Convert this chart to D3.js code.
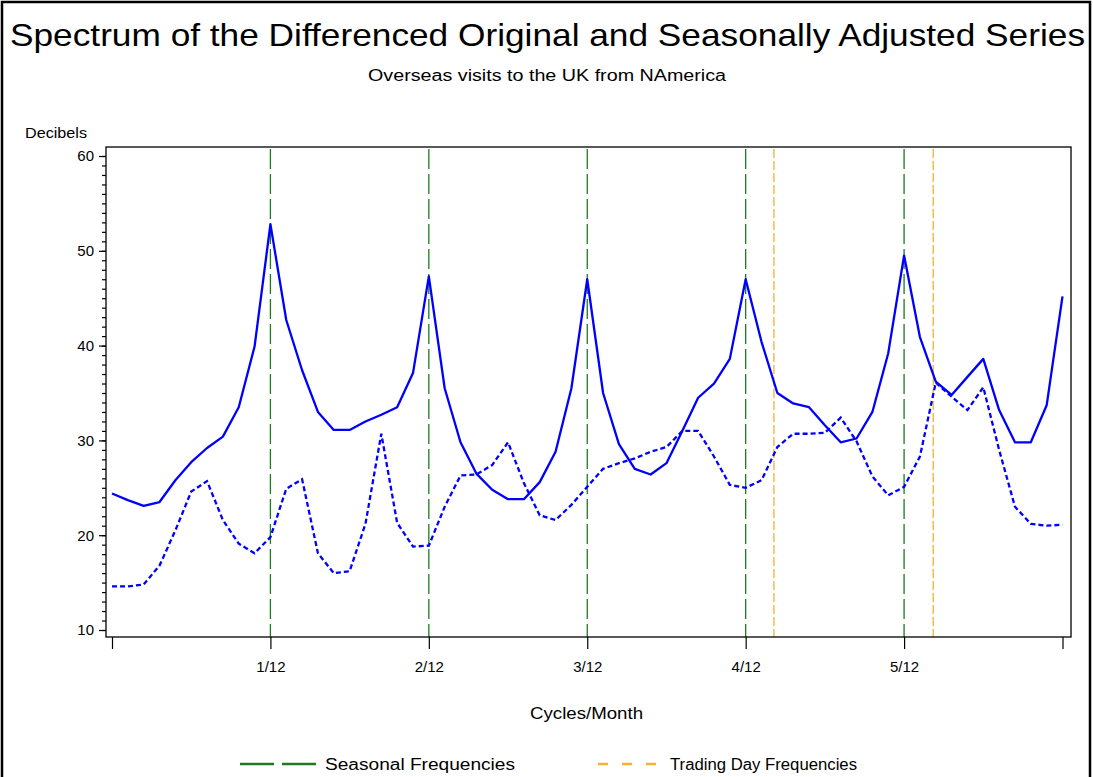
<!DOCTYPE html>
<html>
<head>
<meta charset="utf-8">
<script src="https://cdn.jsdelivr.net/npm/d3@7"></script>
<style>
  html, body { margin: 0; padding: 0; background: #fff; }
  svg { display: block; font-family: "Liberation Sans", Arial, sans-serif; }
</style>
</head>
<body>
<svg id="chart" width="1093" height="777"></svg>
<script>
// Spectrum ordinates at frequencies k/120, k = 0..60 (cycles per month)
const frequencies = d3.range(61).map(k => k / 120);

// Differenced original series (decibels)
const originalDb = [
  24.4, 23.7, 23.1, 23.5, 25.8, 27.7, 29.2, 30.4, 33.5, 39.9,
  52.8, 42.7, 37.4, 33.0, 31.1, 31.1, 32.0, 32.7, 33.5, 37.1,
  47.3, 35.5, 29.8, 26.5, 24.8, 23.8, 23.8, 25.6, 28.8, 35.5,
  47.0, 35.0, 29.6, 27.0, 26.4, 27.6, 31.0, 34.5, 36.0, 38.6,
  47.0, 40.4, 35.0, 33.9, 33.5, 31.6, 29.8, 30.2, 33.0, 39.2,
  49.5, 40.9, 36.2, 34.8, 36.7, 38.6, 33.2, 29.8, 29.8, 33.7,
  45.2
];

// Seasonally adjusted series (decibels)
const adjustedDb = [
  14.6, 14.6, 14.8, 16.8, 20.5, 24.6, 25.7, 21.6, 19.1, 18.1,
  19.8, 24.9, 25.9, 18.1, 16.0, 16.2, 21.2, 30.7, 21.3, 18.8,
  18.9, 23.0, 26.3, 26.4, 27.4, 29.8, 25.5, 22.1, 21.6, 23.2,
  25.1, 27.0, 27.6, 28.1, 28.8, 29.3, 31.0, 31.0, 28.3, 25.3,
  25.0, 25.8, 29.3, 30.7, 30.7, 30.8, 32.4, 29.9, 26.2, 24.2,
  25.1, 28.3, 36.1, 34.6, 33.2, 35.6, 29.0, 23.0, 21.2, 21.0,
  21.1
];

const seasonalFreqs = [1/12, 2/12, 3/12, 4/12, 5/12];
const tradingDayFreqs = [0.3482, 0.4320];

const xTickValues = [0, 1/12, 2/12, 3/12, 4/12, 5/12, 6/12];
const xTickLabels = ["", "1/12", "2/12", "3/12", "4/12", "5/12", ""];
const yTickValues = [10, 20, 30, 40, 50, 60];

const titleText = "Spectrum of the Differenced Original and Seasonally Adjusted Series";
const subtitleText = "Overseas visits to the UK from NAmerica";
const yLabelText = "Decibels";
const xLabelText = "Cycles/Month";
const legendLabels = ["Seasonal Frequencies", "Trading Day Frequencies"];

const svg = d3.select("#chart");

// Outer border
svg.append("rect")
  .attr("x", 2).attr("y", 2).attr("width", 1088).attr("height", 800)
  .attr("fill", "none").attr("stroke", "#000").attr("stroke-width", 2.5);

const x = d3.scaleLinear().domain([0, 0.5]).range([112, 1062.5]);
const y = d3.scaleLinear().domain([10, 60]).range([630, 156]);

const frame = { left: 106, right: 1071, top: 147, bottom: 637 };

// Helper for wide, evenly spread text runs
function wideText(sel, len) {
  return sel.attr("textLength", len).attr("lengthAdjust", "spacingAndGlyphs");
}

// Titles
wideText(svg.append("text")
  .attr("x", 10).attr("y", 46)
  .attr("font-size", 32)
  .attr("fill", "#000")
  .text(titleText), 1075);

wideText(svg.append("text")
  .attr("x", 368).attr("y", 81)
  .attr("font-size", 16)
  .text(subtitleText), 358);

wideText(svg.append("text")
  .attr("x", 25).attr("y", 138)
  .attr("font-size", 15)
  .text(yLabelText), 62);

// Frequency reference lines
svg.append("g").selectAll("line")
  .data(seasonalFreqs).join("line")
  .attr("x1", d => x(d)).attr("x2", d => x(d))
  .attr("y1", frame.top + 2).attr("y2", frame.bottom)
  .attr("stroke", "#1f7a1f").attr("stroke-width", 1.3)
  .attr("stroke-dasharray", "20,5");

svg.append("g").selectAll("line")
  .data(tradingDayFreqs).join("line")
  .attr("x1", d => x(d)).attr("x2", d => x(d))
  .attr("y1", frame.top + 2).attr("y2", frame.bottom)
  .attr("stroke", "#f2b233").attr("stroke-width", 1.3)
  .attr("stroke-dasharray", "9,3");

// Spectrum curves
const line = d3.line()
  .x((d, i) => x(frequencies[i]))
  .y(d => y(d));

svg.append("path")
  .datum(adjustedDb)
  .attr("d", line)
  .attr("fill", "none")
  .attr("stroke", "#0000ff")
  .attr("stroke-width", 2.3)
  .attr("stroke-dasharray", "5,3");

svg.append("path")
  .datum(originalDb)
  .attr("d", line)
  .attr("fill", "none")
  .attr("stroke", "#0000ff")
  .attr("stroke-width", 2.3)
  .attr("stroke-linejoin", "round");

// Plot frame
svg.append("rect")
  .attr("x", frame.left).attr("y", frame.top)
  .attr("width", frame.right - frame.left).attr("height", frame.bottom - frame.top)
  .attr("fill", "none").attr("stroke", "#000").attr("stroke-width", 1.3);

// Y axis: major and minor ticks
const yMinor = svg.append("g")
  .attr("transform", `translate(${frame.left},0)`)
  .call(d3.axisLeft(y).tickValues(d3.range(10, 61, 1)).tickSize(4).tickFormat(""));
yMinor.select(".domain").remove();

const yAxis = svg.append("g")
  .attr("transform", `translate(${frame.left},0)`)
  .call(d3.axisLeft(y).tickValues(yTickValues).tickSize(7).tickPadding(5));
yAxis.select(".domain").remove();
yAxis.selectAll("text").attr("font-size", 15).attr("font-family", "Liberation Sans, Arial, sans-serif").attr("fill", "#000");
svg.selectAll("g.tick line").attr("stroke", "#000").attr("stroke-width", 1.2);

// X axis
const xAxis = svg.append("g")
  .attr("transform", `translate(0,${frame.bottom})`)
  .call(d3.axisBottom(x).tickValues(xTickValues).tickSize(12).tickPadding(12)
    .tickFormat((d, i) => xTickLabels[i]));
xAxis.select(".domain").remove();
xAxis.selectAll("line").attr("stroke", "#000").attr("stroke-width", 1.2);
xAxis.selectAll("text").attr("font-size", 15).attr("font-family", "Liberation Sans, Arial, sans-serif").attr("fill", "#000");

wideText(svg.append("text")
  .attr("x", 530).attr("y", 719)
  .attr("font-size", 16)
  .text(xLabelText), 113);

// Legend
const legendColors = ["#1f7a1f", "#f2b233"];
const legendDash = ["34,8", "10,14"];
const legendLineX = [240, 598];
const legendLineW = [76, 62];
const legendTextX = [325, 670];
const legendTextW = [190, 187];

const legend = svg.append("g").selectAll("g")
  .data(legendLabels).join("g");
legend.append("line")
  .attr("x1", (d, i) => legendLineX[i]).attr("x2", (d, i) => legendLineX[i] + legendLineW[i])
  .attr("y1", 764).attr("y2", 764)
  .attr("stroke", (d, i) => legendColors[i]).attr("stroke-width", 2.3)
  .attr("stroke-dasharray", (d, i) => legendDash[i]);
legend.append("text")
  .attr("x", (d, i) => legendTextX[i]).attr("y", 770)
  .attr("font-size", 16)
  .attr("textLength", (d, i) => legendTextW[i])
  .attr("lengthAdjust", "spacingAndGlyphs")
  .text(d => d);
</script>
</body>
</html>
